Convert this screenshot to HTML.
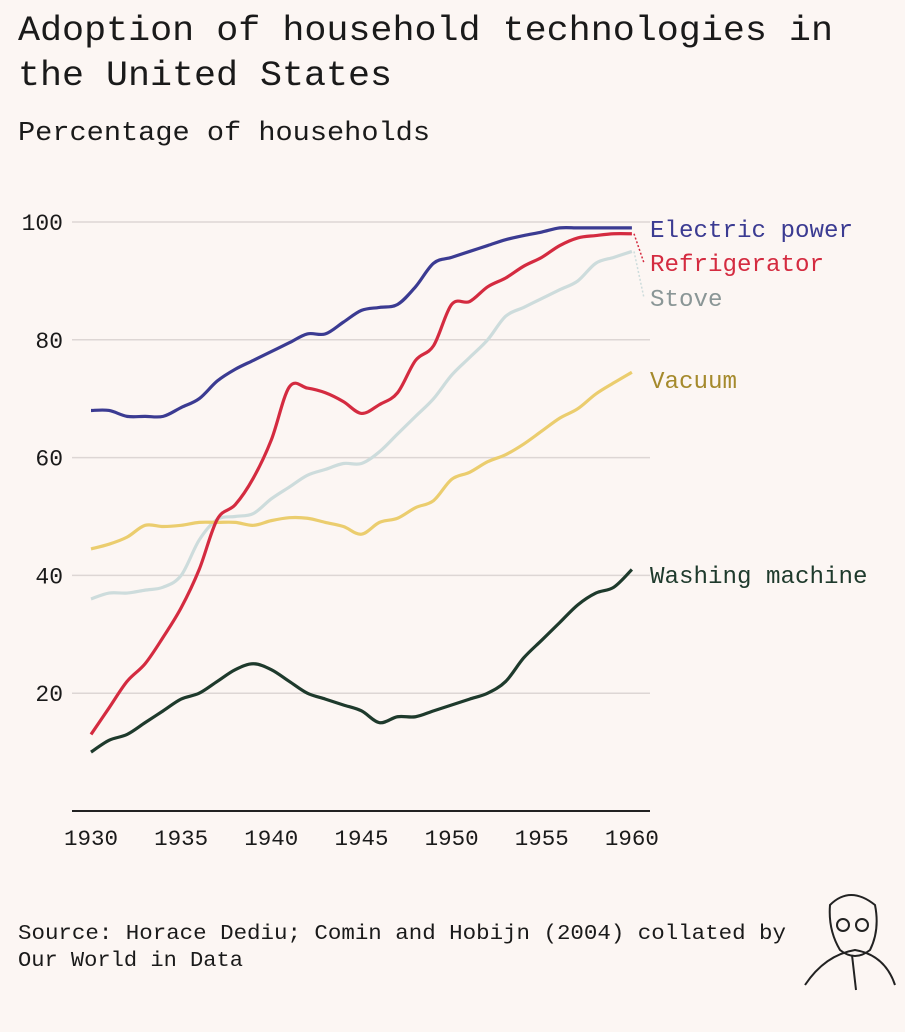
<!DOCTYPE html>
<html><head><meta charset="utf-8"><style>
body{margin:0;background:#fcf6f3;}
svg{display:block;font-family:"Liberation Mono",monospace;}
</style></head><body>
<svg width="905" height="1032" viewBox="0 0 905 1032">
<rect width="905" height="1032" fill="#fcf6f3"/>
<text x="18" y="40" font-size="35" textLength="815" lengthAdjust="spacingAndGlyphs" fill="#1a1a1a">Adoption of household technologies in</text>
<text x="18" y="85" font-size="35" textLength="374" lengthAdjust="spacingAndGlyphs" fill="#1a1a1a">the United States</text>
<text x="18" y="140" font-size="27" textLength="412" lengthAdjust="spacingAndGlyphs" fill="#1a1a1a">Percentage of households</text>
<g id="grid"></g><g id="lines"></g><g id="labels"></g>
<text x="18" y="939" font-size="21" textLength="768" lengthAdjust="spacingAndGlyphs" fill="#1a1a1a">Source: Horace Dediu; Comin and Hobijn (2004) collated by</text>
<text x="18" y="966" font-size="21" textLength="225" lengthAdjust="spacingAndGlyphs" fill="#1a1a1a">Our World in Data</text>
<g fill="none" stroke="#222" stroke-width="2">
<path d="M830 905 q20 -20 45 0 q5 25 -5 45 q-15 12 -30 0 q-12 -20 -10 -45z"/>
<circle cx="843" cy="925" r="6"/><circle cx="862" cy="925" r="6"/>
<path d="M805 985 q20 -30 50 -35 q30 5 40 35 M852 955 l4 35"/>
</g>
</svg>
<script>
const years=[1930,1931,1932,1933,1934,1935,1936,1937,1938,1939,1940,1941,1942,1943,1944,1945,1946,1947,1948,1949,1950,1951,1952,1953,1954,1955,1956,1957,1958,1959,1960];
const electric=[68,68,67,67,67,68.5,70,73,75,76.5,78,79.5,81,81,83,85,85.5,86,89,93,94,95,96,97,97.7,98.3,99,99,99,99,99];
const fridge=[13,17.5,22,25,29.5,34.5,41,49.5,52,56.5,63,72,71.8,71,69.5,67.5,69,71,76.5,79,86,86.5,89,90.5,92.5,94,96,97.3,97.7,98,98];
const stove=[36,37,37,37.5,38,40,46,49.5,50,50.5,53,55,57,58,59,59,61,64,67,70,74,77,80,84,85.5,87,88.5,90,93,94,95];
const vacuum=[44.5,45.3,46.5,48.5,48.3,48.5,49,49,49,48.5,49.3,49.8,49.7,49,48.3,47,49,49.7,51.5,52.7,56.3,57.5,59.3,60.5,62.3,64.5,66.7,68.3,70.8,72.7,74.5];
const washing=[10,12,13,15,17,19,20,22,24,25,24,22,20,19,18,17,15,16,16,17,18,19,20,22,26,29,32,35,37,38,41];
const yTicks=[20,40,60,80,100];
const xTicks=[1930,1935,1940,1945,1950,1955,1960];
const NS="http://www.w3.org/2000/svg";
const x=v=>91+(v-1930)*18.03;
const y=v=>811-v*5.89;
function mk(t,a,p){const e=document.createElementNS(NS,t);for(const k in a)e.setAttribute(k,a[k]);p.appendChild(e);return e;}
const grid=document.getElementById('grid');
yTicks.forEach(t=>{
 const l=mk('line',{x1:72,x2:650,y1:y(t),y2:y(t),stroke:'#ddd6d4','stroke-width':1.5},grid);
 
 
 const tx=mk('text',{x:63,y:y(t)+8,'text-anchor':'end','font-size':23,fill:'#1a1a1a'},grid);
 tx.textContent=t;
 
 
});
const ax=mk('line',{x1:72,x2:650,y1:811,y2:811,stroke:'#222','stroke-width':2},grid);


xTicks.forEach(t=>{
 const tx=mk('text',{x:x(t),y:845,'text-anchor':'middle','font-size':22.5,fill:'#1a1a1a'},grid);
 tx.textContent=t;
 
 
});
function path(vals){
 const p=vals.map((v,i)=>[x(years[i]),y(v)]);
 let d='M'+p[0][0]+' '+p[0][1];
 for(let i=0;i<p.length-1;i++){
  const p0=p[i-1]||p[i],p1=p[i],p2=p[i+1],p3=p[i+2]||p2;
  d+=` C${p1[0]+(p2[0]-p0[0])/6} ${p1[1]+(p2[1]-p0[1])/6} ${p2[0]-(p3[0]-p1[0])/6} ${p2[1]-(p3[1]-p1[1])/6} ${p2[0]} ${p2[1]}`;
 }
 return d;
}
const series=[["stove",stove,"#cddcdc","Stove",306],["vacuum",vacuum,"#ebcd6e","Vacuum",388],["washing-machine",washing,"#1e3a2c","Washing machine",583],["refrigerator",fridge,"#d42b40","Refrigerator",271],["electric-power",electric,"#3b3b92","Electric power",237]];
const lg=document.getElementById('lines'),lb=document.getElementById('labels');
series.forEach(s=>{
 const l=mk('path',{d:path(s[1]),fill:'none',stroke:s[2],'stroke-width':3.2,'stroke-linejoin':'round'},lg);
 
 
 const ly=s[4]; const endY=y(s[1][s[1].length-1]);
 if(Math.abs(ly-8-endY)>10){
  const c=mk('line',{x1:634,y1:endY,x2:644,y2:ly-8,stroke:s[2],'stroke-width':1.5,'stroke-dasharray':'2 2'},lb);
  
  
 }
 const t=mk('text',{x:650,y:ly,'font-size':24,textLength:s[3].length*14.5,lengthAdjust:'spacingAndGlyphs',fill:s[0]=="stove"?"#8a9696":(s[0]=="vacuum"?"#a58a2c":s[2])},lb);
 t.textContent=s[3];
 
 
});
</script>
</body></html>
